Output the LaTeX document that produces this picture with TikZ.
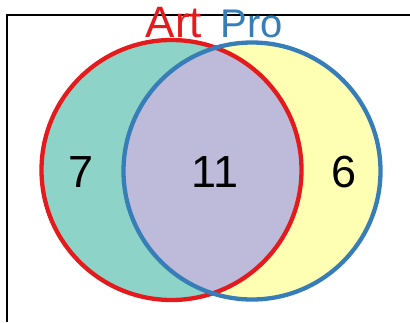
\documentclass[tikz,border=0pt]{standalone}
\usepackage{fontspec}
\setmainfont{Liberation Sans}
\definecolor{cteal}{HTML}{8DD3C7}
\definecolor{cyel}{HTML}{FFFFB3}
\definecolor{clav}{HTML}{BEBADA}
\definecolor{cred}{HTML}{E41A1C}
\definecolor{cblue}{HTML}{377EB8}
\begin{document}
\begin{tikzpicture}[x=1pt,y=-1pt,
  setline/.style={line width=4.3pt},
  numlbl/.style={font=\fontsize{45}{45}\selectfont, text=black, inner sep=0pt}]
\useasboundingbox (0,0) rectangle (410,322);
\draw[line width=2pt] (7,322) -- (7,15) -- (411,15);
\coordinate (ca) at (171.5,170);
\coordinate (cb) at (252,171);
\fill[cteal] (ca) circle[radius=130];
\fill[cyel] (cb) circle[radius=128.5];
\begin{scope}
  \clip (ca) circle[radius=130];
  \fill[clav] (cb) circle[radius=128.5];
\end{scope}
\draw[setline, cred] (ca) circle[radius=130];
\draw[setline, cblue] (cb) circle[radius=128.5];
\node[numlbl] (n7) at (81,172) {7};
\node[numlbl] (n11) at (215,172) {11};
\node[numlbl] (n6) at (344,172) {6};
\node[anchor=base, inner sep=0pt, text=cred, font=\fontsize{44}{44}\selectfont] (art) at (174,37) {Art};
\node[anchor=base, inner sep=0pt, text=cblue, font=\fontsize{40}{40}\selectfont] (pro) at (251.5,37) {Pro};
\end{tikzpicture}
\end{document}
